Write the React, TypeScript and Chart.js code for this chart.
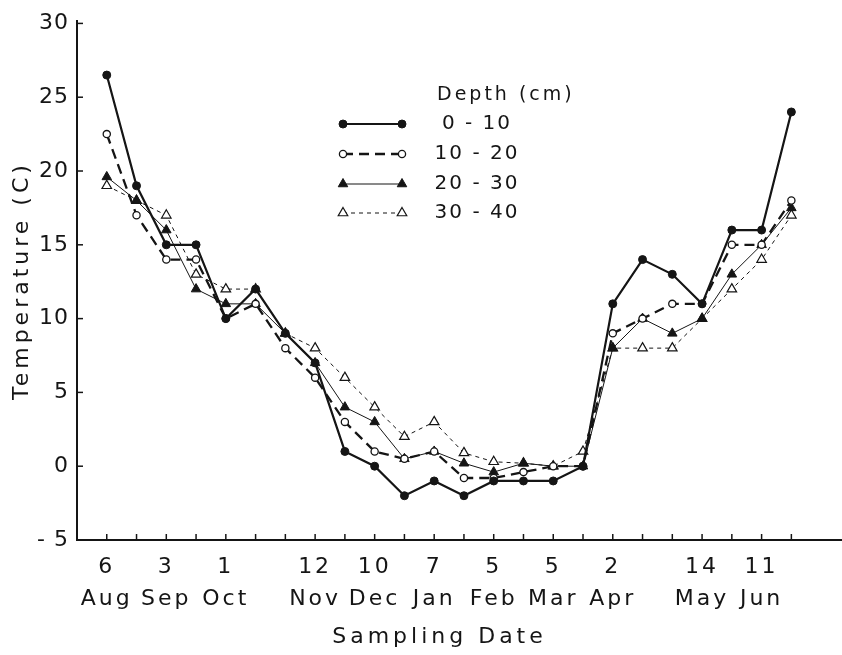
import { useEffect, useRef } from "react";
import { Chart, registerables } from "chart.js";

Chart.register(...registerables);

// Sampling dates as days since 6 Aug (bi-weekly sampling)
const sampleDays = [0, 14, 28, 42, 56, 70, 84, 98, 112, 126, 140, 154, 168, 182, 196, 210, 224, 238, 252, 266, 280, 294, 308, 322];

// Soil temperature (C) per depth class
const depth0to10 = [26.5, 19, 15, 15, 10, 12, 9, 7, 1, 0, -2, -1, -2, -1, -1, -1, 0, 11, 14, 13, 11, 16, 16, 24];
const depth10to20 = [22.5, 17, 14, 14, 10, 11, 8, 6, 3, 1, 0.5, 1, -0.8, -0.8, -0.4, 0, 0, 9, 10, 11, 11, 15, 15, 18];
const depth20to30 = [19.6, 18, 16, 12, 11, 11, 9, 7, 4, 3, 0.5, 1, 0.2, -0.4, 0.2, 0, 0, 8, 10, 9, 10, 13, 15, 17.5];
const depth30to40 = [19, 18, 17, 13, 12, 12, 9, 8, 6, 4, 2, 3, 0.9, 0.3, 0.2, 0, 1, 8, 8, 8, 10, 12, 14, 17];

const seriesLabels = ["0 - 10", "10 - 20", "20 - 30", "30 - 40"];
const legendTitle = "Depth (cm)";
const xAxisTitle = "Sampling Date";
const yAxisTitle = "Temperature (C)";

// x-axis ticks (every 14 days) and their two-line labels
const xTickDays = [0, 14, 28, 42, 56, 70, 84, 98, 112, 126, 140, 154, 168, 182, 196, 210, 224, 238, 252, 266, 280, 294, 308, 322];
const xTickDayLabels = ["6", "", "3", "", "1", "", "", "12", "", "10", "", "7", "", "5", "", "5", "", "2", "", "", "14", "", "11", ""];
const xTickMonthLabels = ["Aug", "", "Sep", "", "Oct", "", "", "Nov", "", "Dec", "", "Jan", "", "Feb", "", "Mar", "", "Apr", "", "", "May", "", "Jun", ""];

const yTickValues = [-5, 0, 5, 10, 15, 20, 25, 30];
const yTickLabels = ["- 5", "0", "5", "10", "15", "20", "25", "30"];

const INK = "#151515";
const FAMILY = '"DejaVu Sans", sans-serif';

function drawMarker(ctx: any, style: string, x: number, y: number, r: number, fill: string, lw: number) {
  ctx.beginPath();
  if (style === "triangle") {
    let rad = 0;
    ctx.moveTo(x + Math.sin(rad) * r, y - Math.cos(rad) * r);
    rad += (2 * Math.PI) / 3;
    ctx.lineTo(x + Math.sin(rad) * r, y - Math.cos(rad) * r);
    rad += (2 * Math.PI) / 3;
    ctx.lineTo(x + Math.sin(rad) * r, y - Math.cos(rad) * r);
    ctx.closePath();
  } else {
    ctx.arc(x, y, r, 0, Math.PI * 2);
  }
  ctx.setLineDash([]);
  ctx.fillStyle = fill;
  ctx.fill();
  ctx.lineWidth = lw;
  ctx.strokeStyle = INK;
  ctx.stroke();
}

function wrapLabelSpacing(scale: any, spacing: string) {
  if (!scale || scale.__spacingWrapped) return;
  const orig = scale.drawLabels;
  scale.drawLabels = function (area: any) {
    const c = this.ctx;
    const prev = c.letterSpacing;
    c.letterSpacing = spacing;
    orig.call(this, area);
    c.letterSpacing = prev;
  };
  scale.__spacingWrapped = true;
}

const axisDecor = {
  id: "axisDecor",
  beforeUpdate(chart: any) {
    chart.ctx.letterSpacing = "4px";
  },
  beforeDraw(chart: any) {
    chart.ctx.letterSpacing = "4px";
    wrapLabelSpacing(chart.scales.x, "3px");
    wrapLabelSpacing(chart.scales.y, "1px");
  },
  afterDraw(chart: any) {
    const { ctx, chartArea, scales } = chart;
    ctx.save();
    ctx.strokeStyle = INK;
    ctx.setLineDash([]);
    ctx.lineWidth = 1.5;
    xTickDays.forEach((d) => {
      const x = scales.x.getPixelForValue(d);
      ctx.beginPath();
      ctx.moveTo(x, chartArea.bottom);
      ctx.lineTo(x, chartArea.bottom - 6);
      ctx.stroke();
    });
    yTickValues.forEach((v, i) => {
      if (i === 0) return;
      const y = scales.y.getPixelForValue(v);
      ctx.beginPath();
      ctx.moveTo(chartArea.left, y);
      ctx.lineTo(chartArea.left + 6, y);
      ctx.stroke();
    });
    // axis line continues to the right edge of the figure
    ctx.lineWidth = 2;
    ctx.beginPath();
    ctx.moveTo(chartArea.right, chartArea.bottom);
    ctx.lineTo(chart.width, chartArea.bottom);
    ctx.stroke();
    ctx.restore();
  },
};

const depthLegend = {
  id: "depthLegend",
  afterDraw(chart: any) {
    const ctx = chart.ctx;
    const rows = [124, 154, 184, 213];
    const x0 = 343;
    const x1 = 402;
    ctx.save();
    ctx.letterSpacing = "3px";
    ctx.fillStyle = INK;
    ctx.font = `19px ${FAMILY}`;
    ctx.textBaseline = "middle";
    ctx.textAlign = "left";
    ctx.fillText(legendTitle, 437, 95);
    ctx.letterSpacing = "2px";
    ctx.font = `20px ${FAMILY}`;
    chart.data.datasets.forEach((ds: any, i: number) => {
      const y = rows[i];
      ctx.beginPath();
      ctx.setLineDash(ds.borderDash || []);
      ctx.lineWidth = ds.borderWidth;
      ctx.strokeStyle = INK;
      ctx.moveTo(x0, y);
      ctx.lineTo(x1, y);
      ctx.stroke();
      drawMarker(ctx, ds.pointStyle, x0, y, ds.pointRadius, ds.pointBackgroundColor, ds.pointBorderWidth);
      drawMarker(ctx, ds.pointStyle, x1, y, ds.pointRadius, ds.pointBackgroundColor, ds.pointBorderWidth);
      ctx.fillStyle = INK;
      ctx.textAlign = "center";
      ctx.fillText(seriesLabels[i], 477, y);
    });
    ctx.restore();
  },
};

export default function App() {
  const canvasRef = useRef<HTMLCanvasElement | null>(null);

  useEffect(() => {
    if (!canvasRef.current) return;
    const toPoints = (vals: number[]) => sampleDays.map((d, i) => ({ x: d, y: vals[i] }));
    const chart = new Chart(canvasRef.current, {
      type: "line",
      data: {
        datasets: [
          {
            label: seriesLabels[0],
            data: toPoints(depth0to10),
            borderColor: INK,
            borderWidth: 2.2,
            pointStyle: "circle",
            pointRadius: 4,
            pointBackgroundColor: INK,
            pointBorderColor: INK,
            pointBorderWidth: 1,
            tension: 0,
          },
          {
            label: seriesLabels[1],
            data: toPoints(depth10to20),
            borderColor: INK,
            borderWidth: 2.3,
            borderDash: [10, 6],
            pointStyle: "circle",
            pointRadius: 3.6,
            pointBackgroundColor: "#ffffff",
            pointBorderColor: INK,
            pointBorderWidth: 1.3,
            tension: 0,
          },
          {
            label: seriesLabels[2],
            data: toPoints(depth20to30),
            borderColor: INK,
            borderWidth: 1,
            pointStyle: "triangle",
            pointRadius: 5.5,
            pointBackgroundColor: INK,
            pointBorderColor: INK,
            pointBorderWidth: 1,
            tension: 0,
          },
          {
            label: seriesLabels[3],
            data: toPoints(depth30to40),
            borderColor: INK,
            borderWidth: 1,
            borderDash: [4, 4],
            pointStyle: "triangle",
            pointRadius: 5.5,
            pointBackgroundColor: "#ffffff",
            pointBorderColor: INK,
            pointBorderWidth: 1.2,
            tension: 0,
          },
        ],
      },
      options: {
        responsive: false,
        animation: false,
        layout: { padding: { left: 0, right: 40, top: 4, bottom: 5 } },
        plugins: {
          legend: { display: false },
          tooltip: { enabled: false },
        },
        scales: {
          x: {
            type: "linear",
            min: -14,
            max: 327,
            afterBuildTicks: (s: any) => {
              s.ticks = xTickDays.map((v) => ({ value: v }));
            },
            afterFit: (s: any) => {
              s.height = 110;
            },
            grid: { display: false, drawTicks: false },
            border: { display: true, color: INK, width: 2 },
            ticks: {
              autoSkip: false,
              maxRotation: 0,
              minRotation: 0,
              padding: 12,
              color: INK,
              font: { family: FAMILY, size: 22, lineHeight: 1.42 },
              callback: (_v: any, i: number) =>
                xTickDayLabels[i] ? [xTickDayLabels[i], xTickMonthLabels[i]] : "",
            },
            title: {
              display: true,
              text: xAxisTitle,
              color: INK,
              font: { family: FAMILY, size: 22, lineHeight: 1.2 },
              padding: { top: 0, bottom: 0 },
            },
          },
          y: {
            type: "linear",
            min: -5,
            max: 30.15,
            afterBuildTicks: (s: any) => {
              s.ticks = yTickValues.map((v) => ({ value: v }));
            },
            afterFit: (s: any) => {
              s.width = 77;
            },
            grid: { display: false, drawTicks: false },
            border: { display: true, color: INK, width: 2 },
            ticks: {
              padding: 8,
              color: INK,
              font: { family: FAMILY, size: 22 },
              callback: (_v: any, i: number) => yTickLabels[i],
            },
            title: {
              display: true,
              text: yAxisTitle,
              color: INK,
              font: { family: FAMILY, size: 22, lineHeight: 1.2 },
              padding: { top: 9, bottom: 0 },
            },
          },
        },
      } as any,
      plugins: [axisDecor, depthLegend],
    });
    return () => chart.destroy();
  }, []);

  return (
    <div style={{ position: "absolute", left: 0, top: 0, width: 842, height: 655, background: "#ffffff" }}>
      <canvas ref={canvasRef} width={842} height={655} style={{ display: "block" }} />
    </div>
  );
}
